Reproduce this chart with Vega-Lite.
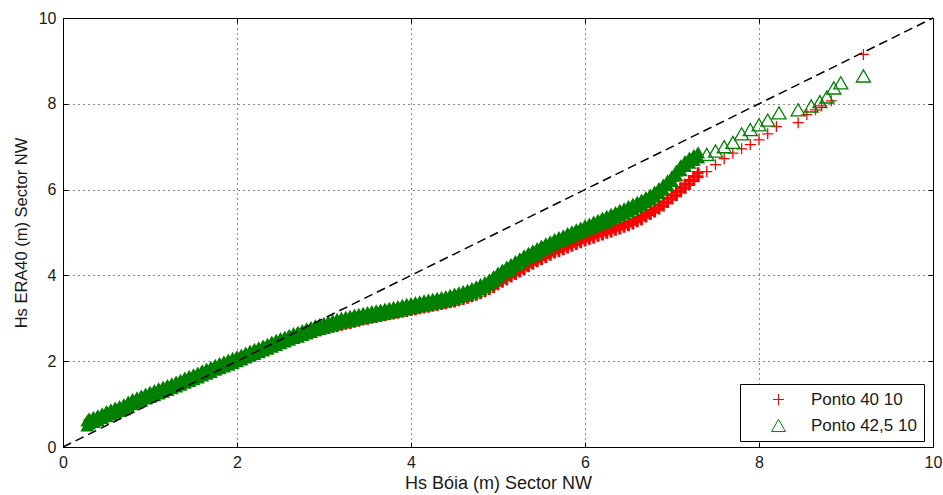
{
  "$schema": "https://vega.github.io/schema/vega-lite/v6.json",
  "width": 870,
  "height": 429,
  "autosize": {"type": "none"},
  "padding": {"left": 63, "top": 18, "right": 10, "bottom": 48},
  "background": "white",
  "config": {
    "font": "Liberation Sans",
    "view": {"stroke": "black", "strokeWidth": 1},
    "axis": {
      "labelFont": "Liberation Sans",
      "titleFont": "Liberation Sans",
      "labelFontSize": 16,
      "titleFontSize": 17,
      "titleFontWeight": "normal",
      "labelColor": "#1a1a1a",
      "titleColor": "#1a1a1a",
      "domainColor": "black",
      "tickColor": "black",
      "gridColor": "black",
      "gridDash": [1, 4],
      "gridOpacity": 0.9
    }
  },
  "datasets": {
    "pts": [
      {"s":"R","x":0.3,"y":0.53},{"s":"R","x":0.4,"y":0.60},{"s":"R","x":0.5,"y":0.70},{"s":"R","x":0.6,"y":0.78},{"s":"R","x":0.7,"y":0.86},{"s":"R","x":0.8,"y":0.98},{"s":"R","x":0.9,"y":1.065},{"s":"R","x":1.0,"y":1.15},{"s":"R","x":1.1,"y":1.23},{"s":"R","x":1.2,"y":1.31},{"s":"R","x":1.3,"y":1.39},{"s":"R","x":1.4,"y":1.48},{"s":"R","x":1.5,"y":1.56},{"s":"R","x":1.6,"y":1.65},{"s":"R","x":1.7,"y":1.73},{"s":"R","x":1.8,"y":1.82},{"s":"R","x":1.9,"y":1.90},{"s":"R","x":2.0,"y":1.98},{"s":"R","x":2.1,"y":2.065},{"s":"R","x":2.2,"y":2.15},{"s":"R","x":2.3,"y":2.23},{"s":"R","x":2.4,"y":2.32},{"s":"R","x":2.5,"y":2.40},{"s":"R","x":2.6,"y":2.48},{"s":"R","x":2.7,"y":2.55},{"s":"R","x":2.8,"y":2.63},
      {"s":"R","x":2.85,"y":2.66},{"s":"R","x":2.9,"y":2.69},{"s":"R","x":2.95,"y":2.71},{"s":"R","x":3.0,"y":2.74},{"s":"R","x":3.05,"y":2.76},{"s":"R","x":3.1,"y":2.79},{"s":"R","x":3.15,"y":2.81},{"s":"R","x":3.2,"y":2.84},{"s":"R","x":3.25,"y":2.86},{"s":"R","x":3.3,"y":2.88},{"s":"R","x":3.35,"y":2.91},{"s":"R","x":3.4,"y":2.93},{"s":"R","x":3.45,"y":2.96},{"s":"R","x":3.5,"y":2.98},{"s":"R","x":3.55,"y":3.00},{"s":"R","x":3.6,"y":3.02},{"s":"R","x":3.65,"y":3.04},{"s":"R","x":3.7,"y":3.06},{"s":"R","x":3.75,"y":3.08},{"s":"R","x":3.8,"y":3.10},{"s":"R","x":3.85,"y":3.12},{"s":"R","x":3.9,"y":3.14},{"s":"R","x":3.95,"y":3.16},{"s":"R","x":4.0,"y":3.18},{"s":"R","x":4.05,"y":3.20},{"s":"R","x":4.1,"y":3.22},{"s":"R","x":4.15,"y":3.24},{"s":"R","x":4.2,"y":3.26},{"s":"R","x":4.25,"y":3.28},{"s":"R","x":4.3,"y":3.30},{"s":"R","x":4.35,"y":3.32},{"s":"R","x":4.4,"y":3.34},{"s":"R","x":4.45,"y":3.36},
      {"s":"R","x":4.5,"y":3.38},{"s":"R","x":4.55,"y":3.41},{"s":"R","x":4.6,"y":3.44},{"s":"R","x":4.65,"y":3.47},{"s":"R","x":4.7,"y":3.50},{"s":"R","x":4.75,"y":3.54},{"s":"R","x":4.8,"y":3.58},{"s":"R","x":4.85,"y":3.62},{"s":"R","x":4.9,"y":3.67},{"s":"R","x":4.95,"y":3.72},{"s":"R","x":5.0,"y":3.78},{"s":"R","x":5.05,"y":3.84},{"s":"R","x":5.1,"y":3.90},{"s":"R","x":5.15,"y":3.96},{"s":"R","x":5.2,"y":4.02},{"s":"R","x":5.25,"y":4.08},{"s":"R","x":5.3,"y":4.14},{"s":"R","x":5.35,"y":4.20},{"s":"R","x":5.4,"y":4.26},{"s":"R","x":5.45,"y":4.32},{"s":"R","x":5.5,"y":4.37},{"s":"R","x":5.55,"y":4.42},{"s":"R","x":5.6,"y":4.47},{"s":"R","x":5.65,"y":4.52},{"s":"R","x":5.7,"y":4.56},{"s":"R","x":5.75,"y":4.60},{"s":"R","x":5.8,"y":4.64},{"s":"R","x":5.85,"y":4.68},{"s":"R","x":5.9,"y":4.72},{"s":"R","x":5.95,"y":4.76},{"s":"R","x":6.0,"y":4.80},{"s":"R","x":6.05,"y":4.84},{"s":"R","x":6.1,"y":4.87},{"s":"R","x":6.15,"y":4.91},{"s":"R","x":6.2,"y":4.94},{"s":"R","x":6.25,"y":4.98},{"s":"R","x":6.3,"y":5.01},{"s":"R","x":6.35,"y":5.05},{"s":"R","x":6.4,"y":5.08},{"s":"R","x":6.45,"y":5.12},{"s":"R","x":6.5,"y":5.16},{"s":"R","x":6.55,"y":5.20},{"s":"R","x":6.6,"y":5.25},{"s":"R","x":6.65,"y":5.30},{"s":"R","x":6.7,"y":5.36},{"s":"R","x":6.75,"y":5.42},{"s":"R","x":6.8,"y":5.48},{"s":"R","x":6.85,"y":5.55},{"s":"R","x":6.9,"y":5.62},{"s":"R","x":6.95,"y":5.70},{"s":"R","x":7.0,"y":5.78},{"s":"R","x":7.05,"y":5.86},{"s":"R","x":7.1,"y":5.95},{"s":"R","x":7.15,"y":6.03},{"s":"R","x":7.2,"y":6.12},{"s":"R","x":7.25,"y":6.21},{"s":"R","x":7.3,"y":6.30},
      {"s":"R","x":7.4,"y":6.42},{"s":"R","x":7.5,"y":6.58},{"s":"R","x":7.6,"y":6.72},{"s":"R","x":7.7,"y":6.85},{"s":"R","x":7.8,"y":6.95},{"s":"R","x":7.9,"y":7.05},{"s":"R","x":8.0,"y":7.16},{"s":"R","x":8.1,"y":7.30},{"s":"R","x":8.2,"y":7.47},{"s":"R","x":8.45,"y":7.56},{"s":"R","x":8.55,"y":7.75},{"s":"R","x":8.65,"y":7.86},{"s":"R","x":8.72,"y":7.95},{"s":"R","x":8.83,"y":8.07},{"s":"R","x":9.2,"y":9.15},
      {"s":"G","x":0.28,"y":0.50},{"s":"G","x":0.3,"y":0.55},{"s":"G","x":0.35,"y":0.585},{"s":"G","x":0.4,"y":0.62},{"s":"G","x":0.45,"y":0.67},{"s":"G","x":0.5,"y":0.72},{"s":"G","x":0.55,"y":0.76},{"s":"G","x":0.6,"y":0.80},{"s":"G","x":0.65,"y":0.84},{"s":"G","x":0.7,"y":0.88},{"s":"G","x":0.75,"y":0.94},{"s":"G","x":0.8,"y":1.00},{"s":"G","x":0.85,"y":1.04},{"s":"G","x":0.9,"y":1.085},{"s":"G","x":0.95,"y":1.13},{"s":"G","x":1.0,"y":1.17},{"s":"G","x":1.05,"y":1.21},{"s":"G","x":1.1,"y":1.25},{"s":"G","x":1.15,"y":1.29},{"s":"G","x":1.2,"y":1.33},{"s":"G","x":1.25,"y":1.37},{"s":"G","x":1.3,"y":1.41},{"s":"G","x":1.35,"y":1.45},{"s":"G","x":1.4,"y":1.50},{"s":"G","x":1.45,"y":1.54},{"s":"G","x":1.5,"y":1.58},{"s":"G","x":1.55,"y":1.62},{"s":"G","x":1.6,"y":1.67},{"s":"G","x":1.65,"y":1.71},{"s":"G","x":1.7,"y":1.75},{"s":"G","x":1.75,"y":1.80},{"s":"G","x":1.8,"y":1.84},{"s":"G","x":1.85,"y":1.88},{"s":"G","x":1.9,"y":1.92},{"s":"G","x":1.95,"y":1.96},{"s":"G","x":2.0,"y":2.00},{"s":"G","x":2.05,"y":2.04},{"s":"G","x":2.1,"y":2.085},{"s":"G","x":2.15,"y":2.13},{"s":"G","x":2.2,"y":2.17},{"s":"G","x":2.25,"y":2.21},{"s":"G","x":2.3,"y":2.25},{"s":"G","x":2.35,"y":2.29},{"s":"G","x":2.4,"y":2.34},{"s":"G","x":2.45,"y":2.38},{"s":"G","x":2.5,"y":2.42},{"s":"G","x":2.55,"y":2.46},{"s":"G","x":2.6,"y":2.50},{"s":"G","x":2.65,"y":2.54},{"s":"G","x":2.7,"y":2.57},{"s":"G","x":2.75,"y":2.61},{"s":"G","x":2.8,"y":2.65},{"s":"G","x":2.85,"y":2.68},{"s":"G","x":2.9,"y":2.72},{"s":"G","x":2.95,"y":2.75},{"s":"G","x":3.0,"y":2.78},{"s":"G","x":3.05,"y":2.81},{"s":"G","x":3.1,"y":2.84},{"s":"G","x":3.15,"y":2.87},{"s":"G","x":3.2,"y":2.90},{"s":"G","x":3.25,"y":2.92},{"s":"G","x":3.3,"y":2.94},{"s":"G","x":3.35,"y":2.97},{"s":"G","x":3.4,"y":2.99},{"s":"G","x":3.45,"y":3.01},{"s":"G","x":3.5,"y":3.03},{"s":"G","x":3.55,"y":3.05},{"s":"G","x":3.6,"y":3.07},{"s":"G","x":3.65,"y":3.09},{"s":"G","x":3.7,"y":3.11},{"s":"G","x":3.75,"y":3.13},{"s":"G","x":3.8,"y":3.15},{"s":"G","x":3.85,"y":3.17},{"s":"G","x":3.9,"y":3.20},{"s":"G","x":3.95,"y":3.22},{"s":"G","x":4.0,"y":3.24},{"s":"G","x":4.05,"y":3.26},{"s":"G","x":4.1,"y":3.28},{"s":"G","x":4.15,"y":3.30},{"s":"G","x":4.2,"y":3.32},{"s":"G","x":4.25,"y":3.34},{"s":"G","x":4.3,"y":3.36},{"s":"G","x":4.35,"y":3.38},{"s":"G","x":4.4,"y":3.40},{"s":"G","x":4.45,"y":3.43},
      {"s":"G","x":4.5,"y":3.46},{"s":"G","x":4.55,"y":3.49},{"s":"G","x":4.6,"y":3.52},{"s":"G","x":4.65,"y":3.55},{"s":"G","x":4.7,"y":3.59},{"s":"G","x":4.75,"y":3.63},{"s":"G","x":4.8,"y":3.68},{"s":"G","x":4.85,"y":3.73},{"s":"G","x":4.9,"y":3.79},{"s":"G","x":4.95,"y":3.87},{"s":"G","x":5.0,"y":3.95},{"s":"G","x":5.05,"y":4.02},{"s":"G","x":5.1,"y":4.09},{"s":"G","x":5.15,"y":4.15},{"s":"G","x":5.2,"y":4.22},{"s":"G","x":5.25,"y":4.28},{"s":"G","x":5.3,"y":4.35},{"s":"G","x":5.35,"y":4.41},{"s":"G","x":5.4,"y":4.47},{"s":"G","x":5.45,"y":4.52},{"s":"G","x":5.5,"y":4.58},{"s":"G","x":5.55,"y":4.63},{"s":"G","x":5.6,"y":4.68},{"s":"G","x":5.65,"y":4.73},{"s":"G","x":5.7,"y":4.78},{"s":"G","x":5.75,"y":4.82},{"s":"G","x":5.8,"y":4.87},{"s":"G","x":5.85,"y":4.91},{"s":"G","x":5.9,"y":4.96},{"s":"G","x":5.95,"y":5.00},{"s":"G","x":6.0,"y":5.05},{"s":"G","x":6.05,"y":5.09},{"s":"G","x":6.1,"y":5.14},{"s":"G","x":6.15,"y":5.18},{"s":"G","x":6.2,"y":5.23},{"s":"G","x":6.25,"y":5.27},{"s":"G","x":6.3,"y":5.32},{"s":"G","x":6.35,"y":5.36},{"s":"G","x":6.4,"y":5.41},{"s":"G","x":6.45,"y":5.45},{"s":"G","x":6.5,"y":5.50},{"s":"G","x":6.55,"y":5.55},{"s":"G","x":6.6,"y":5.60},{"s":"G","x":6.65,"y":5.65},{"s":"G","x":6.7,"y":5.71},{"s":"G","x":6.75,"y":5.77},{"s":"G","x":6.8,"y":5.84},{"s":"G","x":6.85,"y":5.92},{"s":"G","x":6.9,"y":6.00},{"s":"G","x":6.95,"y":6.10},{"s":"G","x":7.0,"y":6.20},{"s":"G","x":7.05,"y":6.33},{"s":"G","x":7.1,"y":6.45},{"s":"G","x":7.15,"y":6.55},{"s":"G","x":7.2,"y":6.63},{"s":"G","x":7.25,"y":6.69},{"s":"G","x":7.3,"y":6.75},
      {"s":"G","x":7.4,"y":6.82},{"s":"G","x":7.5,"y":6.90},{"s":"G","x":7.6,"y":7.00},{"s":"G","x":7.7,"y":7.10},{"s":"G","x":7.8,"y":7.30},{"s":"G","x":7.9,"y":7.40},{"s":"G","x":8.0,"y":7.51},{"s":"G","x":8.1,"y":7.62},{"s":"G","x":8.23,"y":7.79},{"s":"G","x":8.45,"y":7.86},{"s":"G","x":8.6,"y":7.95},{"s":"G","x":8.7,"y":8.05},{"s":"G","x":8.78,"y":8.16},{"s":"G","x":8.86,"y":8.37},{"s":"G","x":8.94,"y":8.49},{"s":"G","x":9.2,"y":8.65}
    ],
    "diag": [{"x": 0, "y": 0}, {"x": 10, "y": 10}]
  },
  "layer": [
    {
      "data": {"name": "pts"},
      "encoding": {
        "x": {"field": "x", "type": "quantitative", "scale": {"domain": [0, 10], "nice": false, "zero": false},
              "axis": {"title": "Hs Bóia (m) Sector NW", "titleFontSize": 18, "values": [0, 2, 4, 6, 8, 10], "grid": true, "tickSize": -5, "labelPadding": 12, "titlePadding": 4, "labelFlush": false}},
        "y": {"field": "y", "type": "quantitative", "scale": {"domain": [0, 10], "nice": false, "zero": false},
              "axis": {"title": "Hs ERA40 (m) Sector NW", "titleFontSize": 16.5, "values": [0, 2, 4, 6, 8, 10], "grid": true, "tickSize": -5, "labelPadding": 12, "titlePadding": 9, "labelFlush": false}}
      },
      "layer": [
        {"transform": [{"filter": "datum.s == 'R' && datum.x < 7.35"}],
         "mark": {"type": "point", "filled": false, "color": "#ff0000", "shape": "M-1,0L1,0M0,-1L0,1", "size": 121, "strokeWidth": 3, "opacity": 1, "yOffset": -4}},
        {"transform": [{"filter": "datum.s == 'R' && datum.x < 7.35"}],
         "mark": {"type": "point", "filled": false, "color": "#ff0000", "shape": "M-1,0L1,0M0,-1L0,1", "size": 121, "strokeWidth": 3, "opacity": 1}},
        {"transform": [{"filter": "datum.x >= 7.35"}],
         "mark": {"type": "point", "filled": false, "strokeWidth": 1.3, "opacity": 1},
         "encoding": {
           "color": {"field": "s", "type": "nominal",
                     "scale": {"domain": ["R", "G"], "range": ["#ff0000", "#008000"]},
                     "legend": {"title": null, "orient": "none", "legendX": 677, "legendY": 366,
                                "labelExpr": "datum.label == 'R' ? 'Ponto 40 10\u00a0\u00a0' : 'Ponto 42,5 10\u00a0\u00a0'",
                                "strokeColor": "black", "fillColor": "white", "padding": 7,
                                "symbolOffset": 23, "labelOffset": 24, "labelFontSize": 17, "labelFont": "Liberation Sans",
                                "labelColor": "#1a1a1a", "symbolSize": 150, "rowPadding": 8, "symbolStrokeWidth": 1}},
           "shape": {"field": "s", "type": "nominal",
                     "scale": {"domain": ["R", "G"], "range": ["M-1,0L1,0M0,-1L0,1", "triangle-up"]}},
           "size": {"field": "s", "type": "nominal", "scale": {"domain": ["R", "G"], "range": [121, 196]}, "legend": null}
         }},
        {"transform": [{"filter": "datum.s == 'G' && datum.x < 7.35"}],
         "mark": {"type": "point", "filled": true, "color": "#008000", "shape": "triangle-up", "size": 196, "opacity": 1, "yOffset": -5}},
        {"transform": [{"filter": "datum.s == 'G' && datum.x < 7.35"}],
         "mark": {"type": "point", "filled": true, "color": "#008000", "shape": "triangle-up", "size": 196, "opacity": 1}}
      ]
    },
    {
      "data": {"name": "diag"},
      "mark": {"type": "line", "color": "black", "strokeWidth": 1.5, "strokeDash": [9, 5]},
      "encoding": {
        "x": {"field": "x", "type": "quantitative", "axis": {"orient": "top", "labels": false, "title": null, "grid": false, "tickSize": -5, "values": [0, 2, 4, 6, 8, 10]}},
        "y": {"field": "y", "type": "quantitative", "axis": {"orient": "right", "labels": false, "title": null, "grid": false, "tickSize": -5, "values": [0, 2, 4, 6, 8, 10]}}
      }
    }
  ],
  "resolve": {"axis": {"x": "independent", "y": "independent"}}
}
